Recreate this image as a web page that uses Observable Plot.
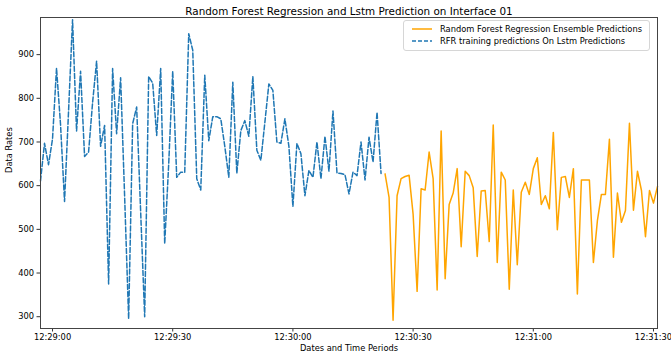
<!DOCTYPE html>
<html>
<head>
<meta charset="utf-8">
<script src="https://cdn.jsdelivr.net/npm/d3@7"></script>
<script src="https://cdn.jsdelivr.net/npm/@observablehq/plot@0.6"></script>
<style>
  html, body { margin: 0; padding: 0; background: #fff; }
  #wrap { position: relative; width: 671px; height: 358px; font-family: "DejaVu Sans", sans-serif; }
  #legend { position: absolute; left: 403px; top: 20px; width: 247px; height: 31px; border: 1px solid #d6d6d6; border-radius: 3px; background: rgba(255,255,255,0.85); font-size: 8.3px; color: #000; box-sizing: border-box; }
  .item { position: absolute; left: 8px; display: flex; align-items: center; white-space: nowrap; }
  .item svg { margin-right: 8px; }
</style>
</head>
<body>
<div id="wrap">
  <div id="chart"></div>
  <div id="legend"></div>
</div>
<script>
const title = "Random Forest Regression and Lstm Prediction on Interface 01";
const xLabel = "Dates and Time Periods";
const yLabel = "Data Rates";
const seriesNames = ["Random Forest Regression Ensemble Predictions", "RFR training predictions On Lstm Predictions"];
const seriesColors = ["#ffa500", "#1f77b4"];

// one reading per second, starting at this time
const startTime = "2023-01-01T12:28:57Z";
const endTime = "2023-01-01T12:31:31Z";

// blue dashed series (RFR training predictions on LSTM predictions)
const trainValues = [
  611, 697, 648, 707, 869, 740, 564, 770, 980, 725,
  862, 667, 677, 790, 885, 690, 738, 375, 868, 719,
  847, 575, 295, 742, 780, 540, 300, 850, 835, 715,
  868, 467, 650, 862, 619, 631, 631, 948, 910, 616,
  590, 853, 703, 758, 758, 753, 690, 619, 837, 628,
  726, 749, 713, 850, 681, 658, 745, 833, 818, 700,
  697, 753, 690, 552, 697, 673, 577, 635, 619, 700,
  616, 713, 633, 771, 629, 628, 625, 581, 631, 623,
  700, 613, 711, 654, 768, 628
];

// orange solid series (Random Forest regression ensemble predictions)
const ensembleValues = [
  627, 573, 292, 577, 616, 621, 624, 535, 358, 593,
  590, 677, 616, 361, 725, 387, 557, 583, 639, 460,
  633, 623, 595, 438, 588, 589, 472, 739, 424, 631,
  613, 363, 590, 419, 585, 608, 580, 639, 664, 557,
  577, 547, 722, 499, 619, 621, 573, 639, 352, 613,
  613, 613, 424, 520, 580, 580, 706, 436, 583, 516,
  543, 743, 544, 633, 589, 483, 589, 560, 598
];

const xTickLabels = ["12:29:00", "12:29:30", "12:30:00", "12:30:30", "12:31:00", "12:31:30"];
const yTicks = [300, 400, 500, 600, 700, 800, 900];
const yDomain = [273, 985];

const t0 = new Date(startTime).getTime();
const train = trainValues.map((v, i) => ({t: new Date(t0 + i * 1000), v}));
const ensemble = ensembleValues.map((v, i) => ({t: new Date(t0 + (trainValues.length + i) * 1000), v}));
const xTicks = xTickLabels.map(s => new Date("2023-01-01T" + s + "Z"));

const chart = Plot.plot({
  width: 671,
  height: 358,
  marginLeft: 40,
  marginRight: 14,
  marginTop: 17,
  marginBottom: 30,
  style: {fontFamily: "DejaVu Sans, sans-serif", fontSize: "8.3px", color: "#000", background: "#fff"},
  x: {type: "utc", domain: [new Date(startTime), new Date(endTime)]},
  y: {domain: yDomain},
  marks: [
    Plot.axisX({ticks: xTicks, tickFormat: d3.utcFormat("%H:%M:%S"), tickSize: 3.5, tickPadding: 2, label: null, stroke: "#333", fontSize: 8.3}),
    Plot.axisY({ticks: yTicks, tickSize: 3.5, tickPadding: 3, label: null, stroke: "#333", fontSize: 8.3}),
    Plot.line(train, {x: "t", y: "v", stroke: seriesColors[1], strokeWidth: 1.5, strokeDasharray: "5,2.2"}),
    Plot.line(ensemble, {x: "t", y: "v", stroke: seriesColors[0], strokeWidth: 1.5}),
    Plot.frame({stroke: "#444", strokeWidth: 1}),
    Plot.text([title], {text: d => d, frameAnchor: "top", dy: -10, fontSize: 10.4, fill: "#000"}),
    Plot.text([xLabel], {text: d => d, frameAnchor: "bottom", dy: 22, fontSize: 8.3, fill: "#000"}),
    Plot.text([yLabel], {text: d => d, frameAnchor: "left", dx: -31, rotate: -90, fontSize: 8.3, fill: "#000"})
  ]
});
document.getElementById("chart").appendChild(chart);

const legend = document.getElementById("legend");
seriesNames.forEach((name, i) => {
  const item = document.createElement("div");
  item.className = "item";
  item.style.top = (i === 0 ? 3 : 15) + "px";
  const dash = i === 1 ? ' stroke-dasharray="4,2"' : '';
  item.innerHTML = `<svg width="20" height="10"><line x1="0" x2="20" y1="5" y2="5" stroke="${seriesColors[i]}" stroke-width="1.5"${dash}/></svg><span>${name}</span>`;
  legend.appendChild(item);
});
</script>
</body>
</html>
